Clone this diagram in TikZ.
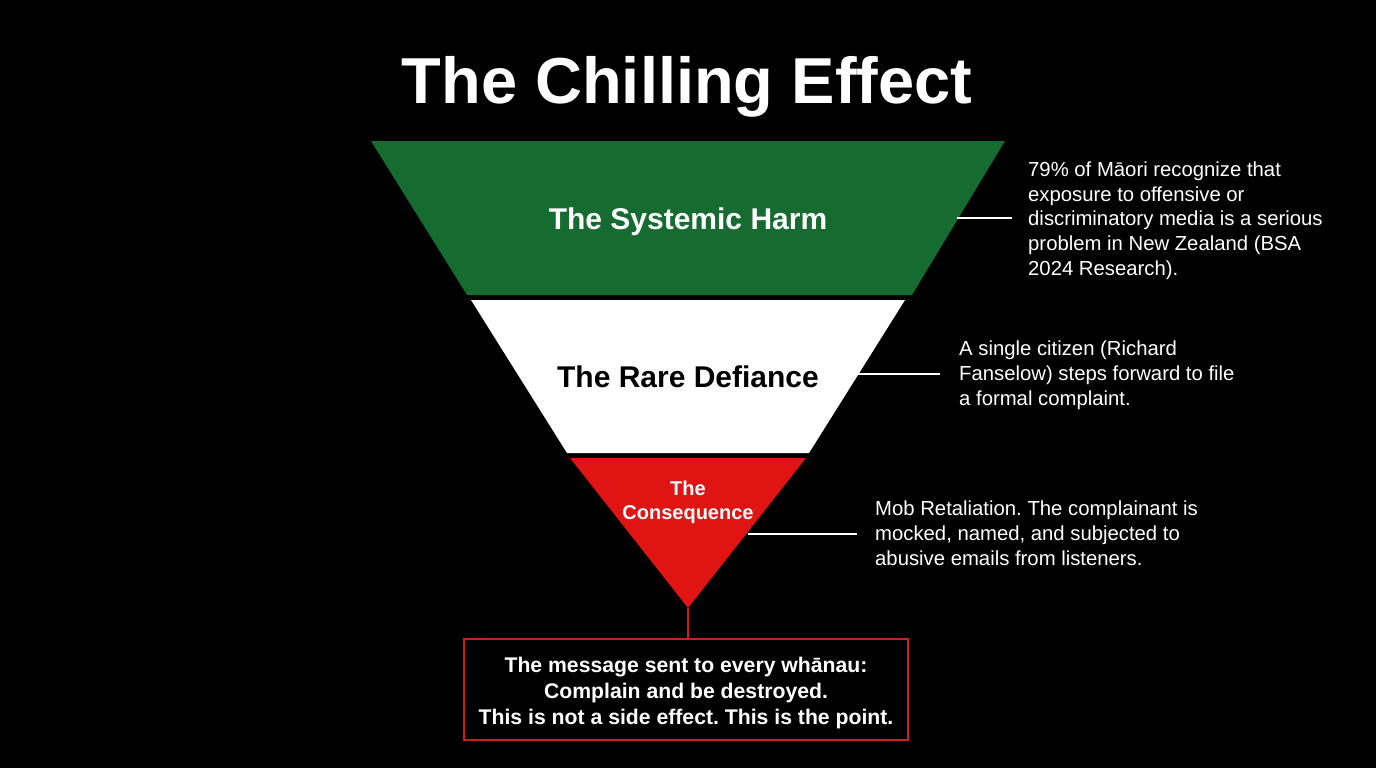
\documentclass[tikz,border=0pt]{standalone}
\usepackage{fontspec}
\setmainfont{Liberation Sans}
\frenchspacing
\definecolor{fgreen}{RGB}{21,107,48}
\definecolor{fred}{RGB}{224,20,18}
\definecolor{boxred}{RGB}{205,32,30}
\begin{document}
\begin{tikzpicture}[x=1pt,y=-1pt,
  blabel/.style={anchor=base,inner sep=0pt,font=\bfseries\fontsize{30}{36}\selectfont},
  rtext/.style={anchor=base west,align=left,inner sep=0pt,text=white,font=\fontsize{20.3}{24.6}\selectfont},
  conn/.style={draw=white,line width=2pt},
  msgbox/.style={draw=boxred,line width=2.5pt,minimum width=444pt,minimum height=101pt,inner sep=0pt,align=center,text=white,font=\bfseries\fontsize{21.2}{26}\selectfont}]
\fill[black] (0,0) rectangle (1376,768);
\useasboundingbox (0,0) rectangle (1376,768);
% title
\node[anchor=base,inner sep=0pt,text=white,font=\bfseries\fontsize{65}{70}\selectfont] (title) at (687,103) {The Chilling Effect};
% bands
\fill[fgreen] (371,141) -- (1005,141) -- (912,295) -- (467,295) -- cycle;
\fill[white] (471,300) -- (905,300) -- (809,453) -- (567,453) -- cycle;
\fill[fred] (570,458) -- (806,458) -- (688,608) -- cycle;
\coordinate (apex) at (688,608);
% band labels
\node[blabel,text=white] (harm) at (688,229) {The Systemic Harm};
\node[blabel,text=black] (defiance) at (688,387) {The Rare Defiance};
\node[blabel,text=white,align=center,font=\bfseries\fontsize{20}{24}\selectfont] (conseq) at (688,519) {The\\Consequence};
% right texts (base = last line baseline)
\node[rtext] (t1) at (1028,275) {79\% of Māori recognize that\\exposure to offensive or\\discriminatory media is a serious\\problem in New Zealand (BSA\\2024 Research).};
\node[rtext] (t2) at (959,405) {A single citizen (Richard\\Fanselow) steps forward to file\\a formal complaint.};
\node[rtext] (t3) at (875,565) {Mob Retaliation. The complainant is\\mocked, named, and subjected to\\abusive emails from listeners.};
% connectors
\coordinate (c1a) at (957,218); \coordinate (c1b) at (1012,218);
\coordinate (c2a) at (858,374); \coordinate (c2b) at (940,374);
\coordinate (c3a) at (748,533.5); \coordinate (c3b) at (857,533.5);
\draw[conn] (c1a) -- (c1b);
\draw[conn] (c2a) -- (c2b);
\draw[conn] (c3a) -- (c3b);
% message box
\node[msgbox] (msg) at (686,689.5) {\rule{0pt}{22pt}The message sent to every whānau:\\Complain and be destroyed.\\This is not a side effect. This is the point.};
\draw[boxred,line width=2.5pt] (apex) -- (apex |- msg.north);
\end{tikzpicture}
\end{document}
